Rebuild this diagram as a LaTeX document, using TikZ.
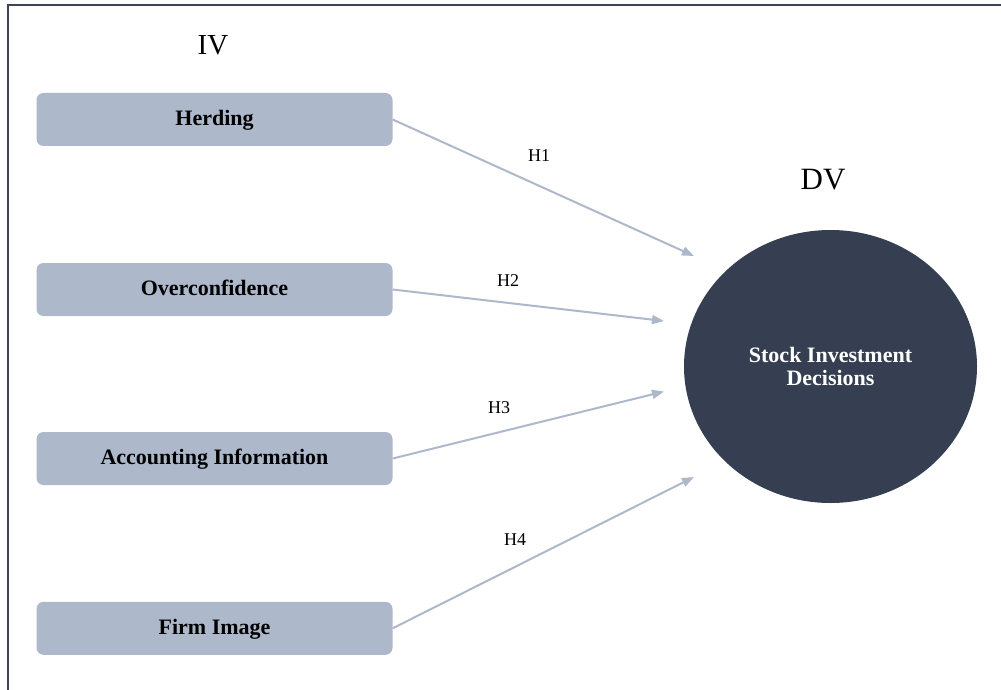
\documentclass[tikz,border=0pt]{standalone}
\usepackage{fontspec}
\setmainfont{Liberation Serif}
\usetikzlibrary{arrows.meta,shapes.geometric}
\definecolor{boxfill}{HTML}{ADB8CA}
\definecolor{darknavy}{HTML}{353F51}
\definecolor{framecol}{HTML}{3B4454}
\begin{document}
\begin{tikzpicture}[x=1pt,y=-1pt,
  ivbox/.style={rectangle, rounded corners=7pt, fill=boxfill, minimum width=356pt, minimum height=53pt, inner sep=0pt, text height=17pt, text depth=5pt, font=\fontsize{22}{26}\selectfont\bfseries},
  dvnode/.style={ellipse, fill=darknavy, minimum width=293pt, minimum height=273pt, inner sep=0pt, text=white, align=center, font=\fontsize{22}{23}\selectfont\bfseries},
  hlabel/.style={anchor=base, inner sep=0pt, font=\fontsize{18}{20}\selectfont},
  arr/.style={draw=boxfill, line width=2pt, -{Triangle[length=12pt,width=9pt]}}
]
\useasboundingbox (0,0) rectangle (1001,690);
\draw[framecol, line width=2pt] (7.5,691) -- (7.5,5.5) -- (1002,5.5);

\node[anchor=base, inner sep=0pt, font=\fontsize{29}{30}\selectfont] (iv) at (213,55) {IV};
\node[anchor=base, inner sep=0pt, font=\fontsize{31}{32}\selectfont] (dv) at (823,189) {DV};

\node[ivbox] (herd) at (214.5,119.5) {Herding};
\node[ivbox] (over) at (214.5,289.5) {Overconfidence};
\node[ivbox] (acc) at (214.5,458.5) {Accounting Information};
\node[ivbox] (firm) at (214.5,628.3) {Firm Image};

\node[dvnode] (sid) at (830.5,366.5) {Stock Investment\\Decisions};

\coordinate (e1) at (694,256);
\coordinate (e2) at (664,321);
\coordinate (e3) at (664,391.5);
\coordinate (e4) at (694,477);

\draw[arr] (herd.east) -- (e1);
\draw[arr] (over.east) -- (e2);
\draw[arr] (acc.east) -- (e3);
\draw[arr] (firm.east) -- (e4);

\node[hlabel] (h1) at (539,161.5) {H1};
\node[hlabel] (h2) at (508,286.5) {H2};
\node[hlabel] (h3) at (499,413) {H3};
\node[hlabel] (h4) at (515,545.5) {H4};
\end{tikzpicture}
\end{document}
